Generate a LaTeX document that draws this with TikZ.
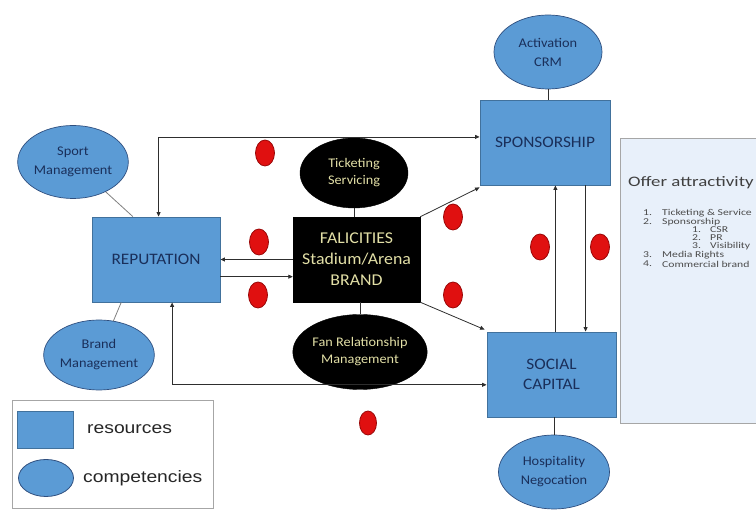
\documentclass[tikz,border=0pt]{standalone}
\usepackage{fontspec}
\setmainfont{Carlito}[FakeStretch=1.08]
\newfontfamily\legendfont{Liberation Sans}[FakeStretch=1.17]
\newfontfamily\panelfont{Carlito}[FakeStretch=1.3]
\usetikzlibrary{shapes.geometric,arrows.meta,calc}

\definecolor{resblue}{HTML}{5B9BD5}
\definecolor{resedge}{HTML}{41719C}
\definecolor{compedge}{HTML}{2F4F7F}
\definecolor{labelnavy}{HTML}{1A2F5A}
\definecolor{paleyellow}{HTML}{E2DFA6}
\definecolor{offerfill}{HTML}{E8F0FA}
\definecolor{offeredge}{HTML}{A6A6A6}
\definecolor{linkgray}{HTML}{2E2E2E}
\definecolor{dotred}{HTML}{E01010}
\definecolor{dotedge}{HTML}{9A0A0A}

\begin{document}
\begin{tikzpicture}[x=1pt,y=-1pt,
  resource/.style={rectangle, draw=resedge, fill=resblue, line width=0.9pt,
    inner sep=0pt, text=labelnavy, align=center,
    font=\fontsize{16}{20}\selectfont},
  facility/.style={rectangle, draw=black, fill=black, inner sep=0pt,
    text=paleyellow, align=center, font=\fontsize{16.5}{21}\selectfont},
  competency/.style={ellipse, draw=compedge, fill=resblue, line width=0.7pt,
    inner sep=0pt, text=labelnavy, align=center,
    font=\fontsize{13.3}{19}\selectfont},
  darkcomp/.style={ellipse, draw=black, fill=black, inner sep=0pt,
    text=paleyellow, align=center, font=\fontsize{13.2}{17}\selectfont},
  marker/.style={ellipse, fill=dotred, draw=dotedge, line width=0.8pt,
    minimum width=19pt, minimum height=26pt, inner sep=0pt},
  link/.style={draw=linkgray, line width=0.8pt},
  softlink/.style={draw=gray, line width=0.8pt},
  tip/.style={-{Triangle[length=4.5pt,width=4pt]}},
  bothtips/.style={{Triangle[length=4.5pt,width=4pt]}-{Triangle[length=4.5pt,width=4pt]}},
  listtext/.style={anchor=west, inner sep=0pt, text=black!70,
    font=\panelfont\fontsize{9}{10}\selectfont},
]
\useasboundingbox (0,0) rectangle (756,510);

% resources
\node[resource, minimum width=128pt, minimum height=85pt] (rep) at (156,259.5) {REPUTATION};
\node[facility, minimum width=127pt, minimum height=85pt] (fac) at (356.5,259.5)
  {FALICITIES\\Stadium/Arena\\BRAND};
\node[resource, minimum width=130pt, minimum height=85pt] (spons) at (545,142.5) {SPONSORSHIP};
\node[resource, minimum width=129pt, minimum height=85pt] (soc) at (551.5,374.5)
  {SOCIAL\\CAPITAL};

% competencies
\node[competency, minimum width=110pt, minimum height=73pt] (sport) at (73,162) {Sport\\Management};
\node[competency, minimum width=105pt, minimum height=70pt] (brand) at (99,355) {Brand\\Management};
\node[competency, minimum width=108pt, minimum height=74pt] (act) at (548,52) {Activation\\CRM};
\node[competency, minimum width=111pt, minimum height=74pt] (hosp) at (554,472) {Hospitality\\Negocation};
\node[darkcomp, minimum width=108pt, minimum height=70pt] (tick) at (354,173) {Ticketing\\Servicing};
\node[darkcomp, minimum width=110pt, minimum height=75pt] (fan) at (360,352) {Fan Relationship\\Management};

% attachment lines between competencies and resources
\draw[softlink] (sport) -- ($(rep.north west)!0.32!(rep.north east)$);
\draw[softlink] (brand) -- ($(rep.south west)!0.23!(rep.south east)$);
\draw[link] (act.south) -- (act.south |- spons.north);
\draw[link] (soc.south -| hosp) -- (hosp.north);
\draw[link] (tick.south) -- (tick.south |- fac.north);
\draw[link] (fac.south -| fan) -- (fan.north);

% flows between resources
\coordinate (repTop) at ($(rep.north west)!0.52!(rep.north east)$);
\coordinate (sponsIn) at ($(spons.north west)!0.435!(spons.south west)$);
\draw[link, bothtips] (repTop) |- (sponsIn);

\coordinate (repBot) at ($(rep.south west)!0.625!(rep.south east)$);
\coordinate (socIn) at ($(soc.north west)!0.62!(soc.south west)$);
\draw[link, bothtips] (repBot) |- (socIn);

\draw[link, tip] (fac.west) -- (rep.east);
\coordinate (repOut) at ($(rep.north east)!0.7!(rep.south east)$);
\draw[link, tip] (repOut) -- (repOut -| fac.west);

\draw[link, tip] (fac.north east) -- ($(spons.south west)+(0,2)$);
\draw[link, tip] (fac.south east) -- ($(soc.north west)+(-2,-2)$);

\coordinate (socUp) at ($(soc.north west)!0.53!(soc.north east)$);
\draw[link, tip] (socUp) -- (socUp |- spons.south);
\coordinate (sponsDown) at ($(spons.south west)!0.81!(spons.south east)$);
\draw[link, tip] (sponsDown) -- (sponsDown |- soc.north);

% numbered markers
\node[marker] (m1) at (265,153) {};
\node[marker] (m2) at (259,242) {};
\node[marker] (m3) at (258,295) {};
\node[marker] (m4) at (453,217) {};
\node[marker] (m5) at (453,295) {};
\node[marker] (m6) at (540,247) {};
\node[marker] (m7) at (600,247) {};
\node[marker, minimum width=17pt, minimum height=24pt] (m8) at (368,423) {};

% offer attractivity panel
\node[rectangle, draw=offeredge, fill=offerfill, line width=0.8pt, anchor=north west,
  minimum width=150pt, minimum height=285pt, inner sep=0pt] (offer) at (620,138) {};
\node[anchor=west, inner sep=0pt, text=black!75, font=\panelfont\fontsize{14.5}{17}\selectfont]
  (offertitle) at (628,183) {Offer attractivity};
\node[listtext] (n1) at (643,213) {1.};
\node[listtext] (t1) at (662,213) {Ticketing \& Service};
\node[listtext] (n2) at (643,222) {2.};
\node[listtext] (t2) at (662,222) {Sponsorship};
\node[listtext] (n21) at (692,230) {1.};
\node[listtext] (t21) at (710,230) {CSR};
\node[listtext] (n22) at (692,238) {2.};
\node[listtext] (t22) at (710,238) {PR};
\node[listtext] (n23) at (692,246) {3.};
\node[listtext] (t23) at (710,246) {Visibility};
\node[listtext] (n3) at (643,255) {3.};
\node[listtext] (t3) at (662,255) {Media Rights};
\node[listtext] (n4) at (643,264) {4.};
\node[listtext] (t4) at (662,264) {Commercial brand};

% legend
\node[rectangle, draw=offeredge, fill=white, line width=0.8pt, anchor=north west,
  minimum width=201pt, minimum height=108pt, inner sep=0pt] (legend) at (12,400) {};
\node[rectangle, draw=resedge, fill=resblue, line width=0.8pt,
  minimum width=56pt, minimum height=37pt, inner sep=0pt] (legres) at (45,429.5) {};
\node[ellipse, draw=compedge, fill=resblue, line width=0.8pt,
  minimum width=55pt, minimum height=37pt, inner sep=0pt] (legcomp) at (46,478) {};
\node[anchor=west, inner sep=0pt, text=black!85, font=\legendfont\fontsize{16.5}{18}\selectfont]
  (legrestext) at (87,429) {resources};
\node[anchor=west, inner sep=0pt, text=black!85, font=\legendfont\fontsize{16.5}{18}\selectfont]
  (legcomptext) at (83,478) {competencies};
\end{tikzpicture}
\end{document}
